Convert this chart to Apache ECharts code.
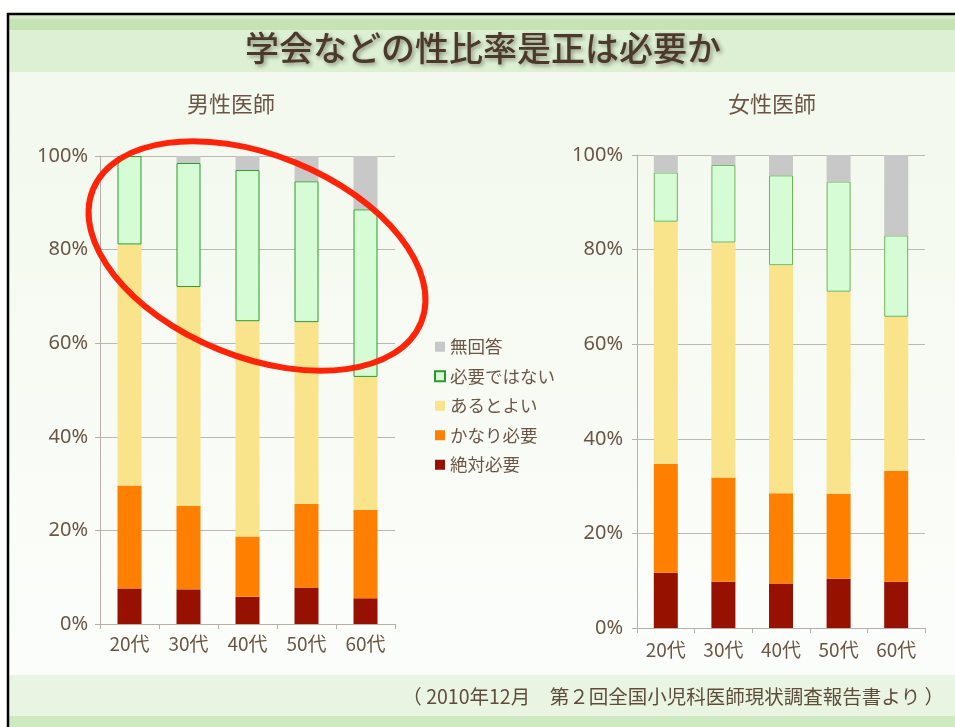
<!DOCTYPE html>
<html>
<head>
<meta charset="utf-8">
<script src="https://cdn.jsdelivr.net/npm/echarts@6/dist/echarts.min.js"></script>
<style>
html,body{margin:0;padding:0;background:#fff;}
#c{width:955px;height:727px;}
</style>
</head>
<body>
<div id="c"></div>
<script>
// ---- data ----
var categories = ['20代', '30代', '40代', '50代', '60代'];
var seriesNames = ['絶対必要', 'かなり必要', 'あるとよい', '必要ではない', '無回答'];
var legendOrder = ['無回答', '必要ではない', 'あるとよい', 'かなり必要', '絶対必要'];
var yTicks = [0, 20, 40, 60, 80, 100];

// 男性医師 (%)
var male_zettai   = [7.6, 7.4, 5.8, 7.8, 5.5];
var male_kanari   = [22.0, 17.8, 12.9, 17.9, 18.9];
var male_aruto    = [51.5, 46.8, 46.0, 38.8, 28.4];
var male_hitsuyou = [18.9, 26.5, 32.3, 30.1, 35.8];
var male_mukaitou = [0.0, 1.5, 3.0, 5.4, 11.4];

// 女性医師 (%)
var female_zettai   = [11.7, 9.8, 9.4, 10.4, 9.8];
var female_kanari   = [23.0, 22.0, 19.1, 18.0, 23.4];
var female_aruto    = [51.2, 49.7, 48.2, 42.7, 32.6];
var female_hitsuyou = [10.4, 16.4, 19.0, 23.3, 17.2];
var female_mukaitou = [3.7, 2.1, 4.3, 5.6, 17.0];

var titleText = '学会などの性比率是正は必要か';
var chartTitles = ['男性医師', '女性医師'];
var sourceText = '（ 2010年12月　第２回全国小児科医師現状調査報告書より ）';

// ---- styles ----
var FONT = '"Noto Sans", "Noto Sans CJK JP", sans-serif';
var JFONT = '"Noto Sans CJK JP", sans-serif';
var TXT = '#6b5646';
var colors = {
  '絶対必要': '#961100',
  'かなり必要': '#ff7f00',
  'あるとよい': '#f9e38b',
  '必要ではない': '#d6fcd6',
  '無回答': '#c8c8c8'
};

function yAxisFor(gi, margin) {
  return {
    type: 'value', gridIndex: gi, min: yTicks[0], max: yTicks[yTicks.length - 1], interval: 20,
    axisLabel: { formatter: '{value}%', color: TXT, fontSize: 20, fontFamily: FONT, margin: margin },
    axisLine: { show: true, lineStyle: { color: '#b8b0a8', width: 1 } },
    axisTick: { show: true, length: 5, lineStyle: { color: '#b8b0a8' } },
    splitLine: { show: true, lineStyle: { color: '#c0b8b0', width: 1 } }
  };
}
function xAxisFor(gi, margin) {
  return {
    type: 'category', gridIndex: gi, data: categories,
    axisLabel: { color: TXT, fontSize: 19, fontFamily: JFONT, margin: margin },
    axisLine: { show: true, lineStyle: { color: '#b8b0a8', width: 1 } },
    axisTick: { show: true, length: 5, alignWithLabel: false, lineStyle: { color: '#b8b0a8' } }
  };
}

function mkSeries(gi, arrs, greenBorder) {
  return seriesNames.map(function (n, i) {
    var st = { color: colors[n] };
    if (n === '必要ではない') { st.borderColor = greenBorder; st.borderWidth = 1; }
    return {
      name: n, type: 'bar', stack: 's' + gi, xAxisIndex: gi, yAxisIndex: gi,
      barWidth: 24, data: arrs[i], itemStyle: st, emphasis: { disabled: true }
    };
  });
}

var series = mkSeries(0, [male_zettai, male_kanari, male_aruto, male_hitsuyou, male_mukaitou], '#2a9a2a')
  .concat(mkSeries(1, [female_zettai, female_kanari, female_aruto, female_hitsuyou, female_mukaitou], '#6fb45a'));

var chart = echarts.init(document.getElementById('c'), null, { renderer: 'canvas' });
chart.setOption({
  backgroundColor: '#ffffff',
  animation: false,
  grid: [
    { left: 100, top: 156, width: 295, height: 468 },
    { left: 637, top: 155, width: 288, height: 473 }
  ],
  xAxis: [xAxisFor(0, 10), xAxisFor(1, 12)],
  yAxis: [yAxisFor(0, 12), yAxisFor(1, 14)],
  legend: {
    data: legendOrder, orient: 'vertical', left: 429, top: 333,
    itemWidth: 10, itemHeight: 10, itemGap: 12, icon: 'rect',
    textStyle: { color: TXT, fontSize: 17.5, fontFamily: JFONT, lineHeight: 17 }
  },
  series: series,
  graphic: [
    { type: 'rect', z: -10, silent: true, shape: { x: 8, y: 14, width: 960, height: 720 },
      style: { fill: new echarts.graphic.LinearGradient(0, 0, 0, 1, [
        { offset: 0, color: '#f1f8ec' }, { offset: 1, color: '#fdfefc' }]) } },
    { type: 'rect', z: -9, silent: true, shape: { x: 8, y: 15, width: 960, height: 4 }, style: { fill: '#d6ecca' } },
    { type: 'rect', z: -9, silent: true, shape: { x: 8, y: 19, width: 960, height: 11 }, style: { fill: '#c6e4b3' } },
    { type: 'rect', z: -9, silent: true, shape: { x: 8, y: 30, width: 960, height: 42 }, style: { fill: '#ddf0d3' } },
    { type: 'rect', z: -9, silent: true, shape: { x: 8, y: 675, width: 960, height: 41 }, style: { fill: '#e9f5e2' } },
    { type: 'rect', z: -9, silent: true, shape: { x: 8, y: 716, width: 960, height: 12 }, style: { fill: '#cfe9c0' } },
    { type: 'line', z: 50, silent: true, shape: { x1: 7, y1: 14, x2: 955, y2: 14 }, style: { stroke: '#000', lineWidth: 2.5 } },
    { type: 'line', z: 50, silent: true, shape: { x1: 8, y1: 13, x2: 8, y2: 727 }, style: { stroke: '#000', lineWidth: 2.5 } },
    { type: 'text', z: 50, silent: true, x: 483, y: 48,
      style: { text: titleText, fill: '#4b3a2a', font: '500 34px ' + JFONT, align: 'center', verticalAlign: 'middle',
        textShadowColor: 'rgba(40,30,20,0.45)', textShadowBlur: 4, textShadowOffsetX: 2, textShadowOffsetY: 2 } },
    { type: 'text', z: 50, silent: true, x: 231, y: 104,
      style: { text: chartTitles[0], fill: TXT, font: '22px ' + JFONT, align: 'center', verticalAlign: 'middle' } },
    { type: 'text', z: 50, silent: true, x: 772, y: 104,
      style: { text: chartTitles[1], fill: TXT, font: '22px ' + JFONT, align: 'center', verticalAlign: 'middle' } },
    { type: 'text', z: 50, silent: true, x: 944, y: 697,
      style: { text: sourceText, fill: '#5e4c3c', font: '19.5px ' + JFONT, align: 'right', verticalAlign: 'middle' } },
    { type: 'ellipse', z: 100, silent: true, x: 257, y: 256, rotation: -22 * Math.PI / 180,
      shape: { cx: 0, cy: 0, rx: 177, ry: 101 },
      style: { fill: 'none', stroke: '#ff2408', lineWidth: 6 } }
  ]
});
</script>
</body>
</html>
